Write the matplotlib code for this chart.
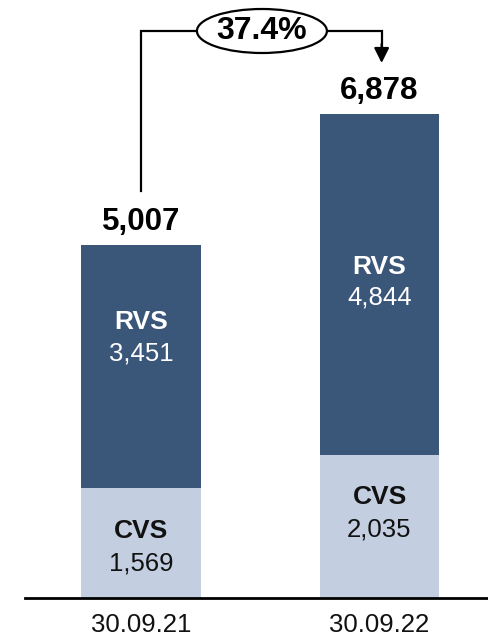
import matplotlib
matplotlib.use("Agg")
import matplotlib.pyplot as plt
from matplotlib.patches import Ellipse

categories = ["30.09.21", "30.09.22"]
cvs = [1569, 2035]
rvs = [3451, 4844]
totals = ["5,007", "6,878"]
growth = "37.4%"

dark = "#3A5678"
light = "#C3CEE1"

plt.rcParams['font.family'] = ['Liberation Sans', 'DejaVu Sans']

fig = plt.figure(figsize=(4.88, 6.38), dpi=100)
ax = fig.add_axes([0, 40/638, 1, 598/638])
ppu = 0.0703  # pixels per unit
ax.set_ylim(0, 598/ppu)
ax.set_xlim(-141/238.5, (488-141)/238.5)
ax.axis('off')

x = list(range(len(categories)))
ax.bar(x, cvs, width=0.5, color=light, edgecolor='none')
ax.bar(x, rvs, width=0.5, bottom=cvs, color=dark, edgecolor='none')

def v(px):
    return (598 - px) / ppu

# segment labels
rvs_lab_y = [322, 267]
cvs_lab_y = [531, 497]
for i in x:
    ax.text(i, v(rvs_lab_y[i]), "RVS", ha='center', va='center', color='white',
            fontsize=19, fontweight='bold')
    ax.text(i, v(rvs_lab_y[i] + 31), f"{rvs[i]:,}", ha='center', va='center', color='white',
            fontsize=18.5)
    ax.text(i, v(cvs_lab_y[i]), "CVS", ha='center', va='center', color='#111111',
            fontsize=19, fontweight='bold')
    ax.text(i, v(cvs_lab_y[i] + 33), f"{cvs[i]:,}", ha='center', va='center', color='#111111',
            fontsize=18.5)
    top = cvs[i] + rvs[i]
    ax.text(i, top + 23/ppu, totals[i], ha='center', va='center', color='black',
            fontsize=22.5, fontweight='bold')
    ax.text(i, v(625), categories[i], ha='center', va='center', color='#111111',
            fontsize=18.5, clip_on=False)

# baseline
ax.plot([-141/238.5 + 25/238.5, (488-141)/238.5], [0, 0], color='black', lw=2, clip_on=False)

# bracket
yb = v(31)
ax.plot([0, 0, 0.235], [v(191), yb, yb], color='black', lw=1.6, solid_joinstyle='miter')
ax.plot([0.78, 1.009, 1.009], [yb, yb, v(47)], color='black', lw=1.6, solid_joinstyle='miter')
ax.annotate("", xy=(1.009, v(63)), xytext=(1.009, v(44)),
            arrowprops=dict(arrowstyle='-|>,head_length=0.9,head_width=0.45', color='black', lw=1.6,
                            shrinkA=0, shrinkB=0))
ell = Ellipse((0.507, yb), 130/238.5, 44/ppu, facecolor='white', edgecolor='black', lw=1.6, zorder=3)
ax.add_patch(ell)
ax.text(0.507, yb, growth, ha='center', va='center', fontsize=23, fontweight='bold', zorder=4)

fig.savefig("out.png", dpi=100)
